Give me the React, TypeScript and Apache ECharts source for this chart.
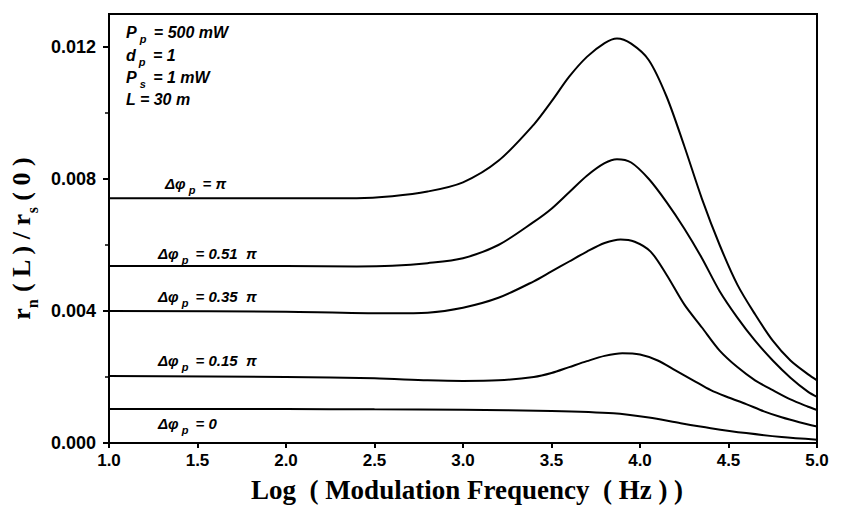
import React, { useEffect, useRef } from "react";
import * as echarts from "echarts";

// x positions (log10 of modulation frequency, Hz) and values of r_n(L)/r_s(0)
const xPi = [1.0, 2.0, 2.4, 2.6, 2.8, 3.0, 3.2, 3.4, 3.5, 3.6, 3.7, 3.8, 3.87, 3.95, 4.05, 4.15, 4.25, 4.35, 4.45, 4.55, 4.65, 4.75, 4.85, 4.95, 5.0];
const yPi = [0.00742, 0.00742, 0.00742, 0.00748, 0.00762, 0.0079, 0.00855, 0.00965, 0.01035, 0.0111, 0.0117, 0.01212, 0.01226, 0.0121, 0.0116, 0.0105, 0.009, 0.0074, 0.006, 0.0048, 0.0039, 0.0031, 0.0025, 0.00208, 0.0019];

const x051 = [1.0, 2.0, 2.4, 2.6, 2.8, 3.0, 3.2, 3.4, 3.5, 3.6, 3.7, 3.8, 3.87, 3.95, 4.05, 4.15, 4.25, 4.35, 4.45, 4.55, 4.65, 4.75, 4.85, 4.95, 5.0];
const y051 = [0.00536, 0.00536, 0.00535, 0.00537, 0.00545, 0.0056, 0.006, 0.0067, 0.0071, 0.0076, 0.0081, 0.00848, 0.0086, 0.0085, 0.008, 0.0073, 0.0065, 0.0056, 0.0046, 0.0038, 0.0031, 0.0025, 0.00198, 0.00155, 0.0014];

const x035 = [1.0, 2.0, 2.6, 2.8, 3.0, 3.2, 3.4, 3.5, 3.6, 3.7, 3.8, 3.89, 3.97, 4.06, 4.15, 4.25, 4.35, 4.45, 4.55, 4.65, 4.75, 4.85, 4.95, 5.0];
const y035 = [0.004, 0.00398, 0.00393, 0.00395, 0.0041, 0.0044, 0.0049, 0.0052, 0.0055, 0.0058, 0.00606, 0.00617, 0.0061, 0.0058, 0.0051, 0.0042, 0.0035, 0.0028, 0.0023, 0.0019, 0.0016, 0.00132, 0.0011, 0.001];

const x015 = [1.0, 2.0, 2.5, 2.8, 3.0, 3.2, 3.4, 3.5, 3.6, 3.7, 3.8, 3.9, 4.0, 4.1, 4.2, 4.3, 4.4, 4.5, 4.6, 4.7, 4.8, 4.9, 5.0];
const y015 = [0.00203, 0.002, 0.00196, 0.0019, 0.00188, 0.0019, 0.002, 0.00212, 0.0023, 0.00248, 0.00264, 0.00272, 0.00268, 0.0025, 0.0022, 0.0019, 0.0016, 0.00138, 0.00118, 0.00096, 0.00078, 0.00063, 0.0005];

const x0 = [1.0, 2.0, 2.5, 3.0, 3.5, 3.85, 4.05, 4.23, 4.4, 4.6, 4.8, 5.0];
const y0 = [0.00103, 0.00103, 0.00102, 0.00101, 0.00097, 0.0009, 0.00077, 0.0006, 0.00045, 0.0003, 0.00018, 0.0001];

const xTickValues = [1.0, 1.5, 2.0, 2.5, 3.0, 3.5, 4.0, 4.5, 5.0];
const yMajorTicks = [0, 0.004, 0.008, 0.012];
const yMinorTicks = [0.002, 0.006, 0.01];

const curveLabels = ["π", "0.51  π", "0.35  π", "0.15  π", "0"];
const paramLines = [
  ["P", "p", " = 500 mW"],
  ["d", "p", " = 1"],
  ["P", "s", " = 1 mW"],
  ["L", "", " = 30 m"],
];

const SANS = "'Liberation Sans', Arial, sans-serif";
const SERIF = "'Liberation Serif', 'Times New Roman', serif";

function pairs(xs: number[], ys: number[]) {
  return xs.map((x, i) => [x, ys[i]]);
}

export default function App() {
  const ref = useRef<HTMLDivElement>(null);
  useEffect(() => {
    if (!ref.current) return;
    const chart = echarts.init(ref.current, null, { renderer: "svg" });
    const seriesData = [
      pairs(xPi, yPi),
      pairs(x051, y051),
      pairs(x035, y035),
      pairs(x015, y015),
      pairs(x0, y0),
    ];
    const mkRich = (size: number, sub: number) => ({
      a: { fontFamily: SANS, fontStyle: "italic", fontWeight: "bold", fontSize: size, color: "#000", lineHeight: 20, verticalAlign: "bottom" },
      s: { fontFamily: SANS, fontStyle: "italic", fontWeight: "bold", fontSize: sub, color: "#000", lineHeight: 20, verticalAlign: "bottom", padding: [0, 3, -4, 3] },
    });
    const labelRich = mkRich(15, 11);
    const paramRich = mkRich(16, 11);
    const labelPos = [
      [165, 176],
      [158, 246],
      [158, 289],
      [158, 353],
      [158, 416],
    ];
    const paramPos = [24, 47, 69, 91];
    const graphics: any[] = [];
    curveLabels.forEach((t, i) => {
      graphics.push({
        type: "text",
        left: labelPos[i][0],
        top: labelPos[i][1],
        style: { text: `{a|Δφ}{s|p}{a| = ${t}}`, rich: labelRich },
      });
    });
    paramLines.forEach((p, i) => {
      graphics.push({
        type: "text",
        left: 126,
        top: paramPos[i],
        style: {
          text: p[1] ? `{a|${p[0]}}{s|${p[1]}}{a|${p[2]}}` : `{a|${p[0]}${p[2]}}`,
          rich: paramRich,
        },
      });
    });

    chart.setOption({
      animation: false,
      grid: { left: 107, right: 27, top: 14, bottom: 66, show: true, borderColor: "#000", borderWidth: 2, backgroundColor: "transparent" },
      xAxis: {
        type: "value",
        min: 1,
        max: 5,
        interval: 0.5,
        name: "Log  ( Modulation Frequency  ( Hz ) )",
        nameLocation: "middle",
        nameGap: 33,
        nameTextStyle: { fontFamily: SERIF, fontWeight: "bold", fontSize: 27, color: "#000", padding: [0, 0, 0, 8] },
        axisLine: { lineStyle: { color: "#000", width: 2 } },
        axisTick: { show: true, inside: false, length: 5, lineStyle: { color: "#000", width: 2 } },
        axisLabel: {
          color: "#000",
          fontFamily: SANS,
          fontWeight: "bold",
          fontSize: 17,
          margin: 9,
          formatter: (v: number) => (xTickValues.includes(Math.round(v * 10) / 10) ? v.toFixed(1) : ""),
        },
        splitLine: { show: false },
      },
      yAxis: [
        {
          type: "value",
          min: 0,
          max: 0.013,
          name: "{a|r}{s|n}{a| ( L ) / r}{s|s}{a| ( 0 )}",
          nameLocation: "middle",
          nameGap: 75,
          nameRotate: 90,
          nameTextStyle: {
            padding: [0, 20, 0, 0],
            rich: {
              a: { fontFamily: SERIF, fontWeight: "bold", fontSize: 26, color: "#000", lineHeight: 28, verticalAlign: "bottom" },
              s: { fontFamily: SERIF, fontWeight: "bold", fontSize: 16, color: "#000", lineHeight: 28, verticalAlign: "bottom", padding: [0, 0, -6, 0] },
            },
          },
          axisLine: { show: true, lineStyle: { color: "#000", width: 2 } },
          axisTick: { show: true, inside: false, length: 6, customValues: yMajorTicks, lineStyle: { color: "#000", width: 2 } },
          axisLabel: {
            color: "#000",
            fontFamily: SANS,
            fontWeight: "bold",
            fontSize: 18,
            margin: 13,
            customValues: yMajorTicks,
            formatter: (v: number) => v.toFixed(3),
          },
          splitLine: { show: false },
        },
        {
          type: "value",
          min: 0,
          max: 0.013,
          position: "left",
          axisLine: { show: false },
          axisTick: { show: true, inside: false, length: 4, customValues: yMinorTicks, lineStyle: { color: "#000", width: 1.5 } },
          axisLabel: { show: false },
          splitLine: { show: false },
        },
      ],
      series: seriesData.map((d) => ({
        type: "line",
        data: d,
        smooth: 0.3,
        symbol: "none",
        yAxisIndex: 0,
        lineStyle: { color: "#000", width: 2 },
      })),
      graphic: graphics,
    });
    return () => chart.dispose();
  }, []);
  return <div ref={ref} style={{ position: "absolute", left: 0, top: 0, width: 844, height: 509 }} />;
}
